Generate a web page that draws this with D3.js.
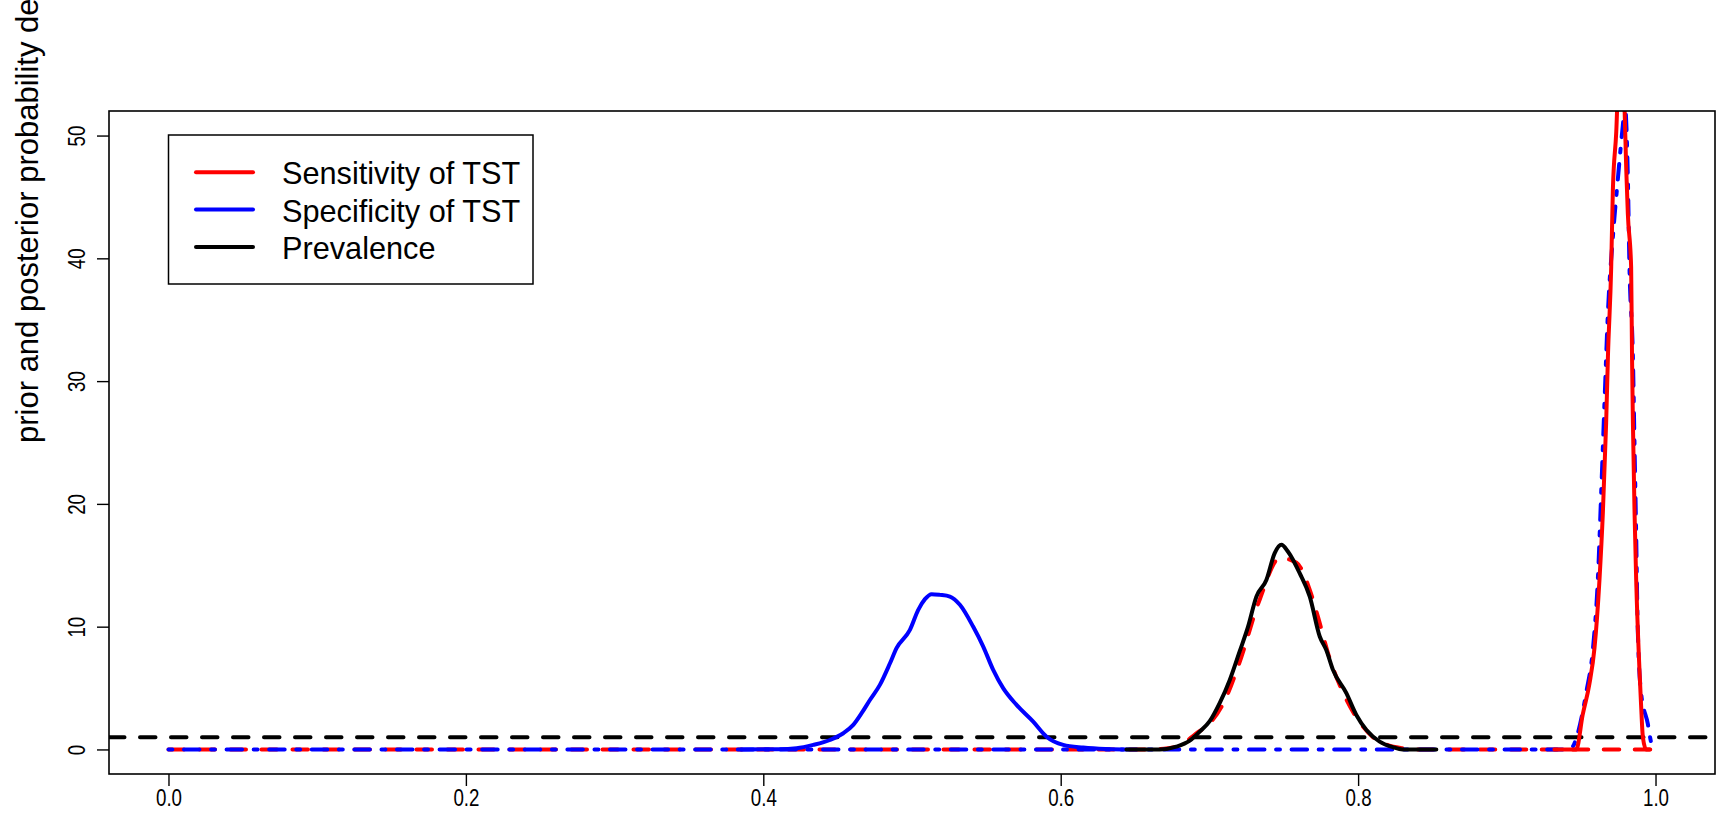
<!DOCTYPE html>
<html>
<head>
<meta charset="utf-8">
<script src="https://cdn.jsdelivr.net/npm/d3@7"></script>
<style>
  body { margin: 0; background: #fff; }
  svg { display: block; }
  text { font-family: "Liberation Sans", Arial, Helvetica, sans-serif; fill: #000; }
</style>
</head>
<body>
<svg id="chart" width="1721" height="827"></svg>
<script>
// Tick values
const xTicks = [0, 0.2, 0.4, 0.6, 0.8, 1.0];
const yTicks = [0, 10, 20, 30, 40, 50];

// Prior for sensitivity (red dashed)
const sensPriorX = [0, 0.64, 0.66, 0.672, 0.68, 0.691, 0.70, 0.71, 0.72, 0.7338, 0.7474, 0.7586, 0.7675, 0.773, 0.7809, 0.79, 0.80, 0.81, 0.82, 0.83, 0.84, 0.86, 1.0];
const sensPriorY = [0, 0, 0, 0.1, 0.3, 1.3, 2.1, 3.9, 7.0, 12.2, 15.6, 15.2, 13.0, 10.8, 7.4, 4.6, 2.4, 1.0, 0.35, 0.1, 0, 0, 0];

// Prior for specificity (blue dot-dash)
const specPriorX = [0, 0.94, 0.944, 0.9478, 0.9534, 0.958, 0.9612, 0.9635, 0.9657, 0.968, 0.9713, 0.9747, 0.978, 0.9795, 0.9805, 0.9814, 0.9825, 0.9848, 0.9859, 0.987, 0.988, 0.9903, 0.9948, 0.997, 0.9993];
const specPriorY = [0, 0, 0.2, 1.35, 4.63, 8.3, 13.8, 21.0, 28.3, 35.6, 41.7, 46.5, 50.8, 52.5, 50.5, 46.5, 39.2, 31.9, 24.6, 17.4, 10.1, 4.6, 2.1, 0.6, 0];

// Prior for prevalence (uniform, black dashed)
const prevPriorDensity = 1;

// Posterior for sensitivity (red solid)
const sensPostX = [0.932, 0.9467, 0.951, 0.9556, 0.959, 0.9623, 0.9646, 0.9668, 0.968, 0.9702, 0.9713, 0.9736, 0.9755, 0.9775, 0.979, 0.9803, 0.9814, 0.9836, 0.9842, 0.9848, 0.9859, 0.987, 0.9892, 0.9903, 0.9915, 0.9937, 0.996];
const sensPostY = [0, 0, 2.81, 5.37, 8.3, 13.8, 19.3, 26.6, 32.0, 39.3, 45.5, 50.3, 56, 57, 53, 47.3, 43.6, 39.3, 32.0, 26.6, 19.3, 13.8, 6.5, 3.6, 1.0, 0, 0];

// Posterior for specificity (blue solid)
const specPostX = [0.385, 0.41, 0.4224, 0.4336, 0.4448, 0.4538, 0.4605, 0.4661, 0.4717, 0.4784, 0.4852, 0.4896, 0.4986, 0.5042, 0.5087, 0.5132, 0.5188, 0.5255, 0.5322, 0.5411, 0.5479, 0.5546, 0.5613, 0.5703, 0.5815, 0.5905, 0.6017, 0.6151, 0.63, 0.642];
const specPostY = [0, 0.02, 0.1, 0.37, 0.77, 1.32, 2.0, 2.95, 4.03, 5.26, 7.02, 8.25, 9.74, 11.37, 12.24, 12.65, 12.59, 12.45, 11.78, 10.01, 8.38, 6.48, 4.99, 3.63, 2.27, 1.04, 0.37, 0.15, 0.03, 0];

// Posterior for prevalence (black solid)
const prevPostX = [0.6442, 0.6666, 0.6778, 0.6868, 0.6935, 0.7002, 0.7069, 0.7137, 0.7204, 0.726, 0.7316, 0.7383, 0.7439, 0.7484, 0.7529, 0.7607, 0.7675, 0.7742, 0.7786, 0.7831, 0.7921, 0.7988, 0.8056, 0.8145, 0.8235, 0.83, 0.8526];
const prevPostY = [0, 0, 0.23, 0.72, 1.45, 2.3, 3.77, 5.66, 8.0, 10.0, 12.45, 13.8, 15.99, 16.67, 16.1, 14.36, 12.45, 9.2, 8.1, 6.48, 4.58, 2.81, 1.59, 0.64, 0.18, 0, 0];

const legendLabels = ["Sensitivity of TST", "Specificity of TST", "Prevalence"];
const legendColors = ["#ff0000", "#0000ff", "#000000"];
const yTitle = "prior and posterior probability density";

// Layout
const plot = { left: 109, right: 1715, top: 111, bottom: 774 };
const LW = 4;                     // curve line width
const dash = [15.5, 15.5];        // dashed
const dotdash = [3.9, 11.6, 15.5, 11.6];  // dot-dash

const svg = d3.select("#chart");

const x = d3.scaleLinear().domain([-0.04, 1.04]).range([plot.left, plot.right]);
const y = d3.scaleLinear().domain([-2, 52]).range([plot.bottom, plot.top]);

svg.append("defs").append("clipPath").attr("id", "plotClip")
  .append("rect")
  .attr("x", plot.left).attr("y", plot.top)
  .attr("width", plot.right - plot.left).attr("height", plot.bottom - plot.top);

const line = d3.line().x(d => x(d[0])).y(d => y(d[1])).curve(d3.curveMonotoneX);
const zip = (xs, ys) => xs.map((v, i) => [v, ys[i]]);

const curves = svg.append("g").attr("clip-path", "url(#plotClip)");

function drawCurve(data, color, dasharray) {
  curves.append("path")
    .datum(data)
    .attr("d", line)
    .attr("fill", "none")
    .attr("stroke", color)
    .attr("stroke-width", LW)
    .attr("stroke-linejoin", "round")
    .attr("stroke-linecap", "round")
    .attr("stroke-dasharray", dasharray ? dasharray.join(" ") : null);
}

// priors
drawCurve(zip(sensPriorX, sensPriorY), "#ff0000", dash);
drawCurve(zip(specPriorX, specPriorY), "#0000ff", dotdash);
drawCurve([[x.domain()[0], prevPriorDensity], [x.domain()[1], prevPriorDensity]], "#000000", dash);
// posteriors
drawCurve(zip(sensPostX, sensPostY), "#ff0000", null);
drawCurve(zip(specPostX, specPostY), "#0000ff", null);
drawCurve(zip(prevPostX, prevPostY), "#000000", null);

// Plot frame
svg.append("rect")
  .attr("x", plot.left).attr("y", plot.top)
  .attr("width", plot.right - plot.left).attr("height", plot.bottom - plot.top)
  .attr("fill", "none").attr("stroke", "#000").attr("stroke-width", 1.6);

// X axis
const gx = svg.append("g")
  .attr("transform", `translate(0,${plot.bottom})`)
  .call(d3.axisBottom(x).tickValues(xTicks).tickFormat(d3.format(".1f")).tickSizeInner(12).tickSizeOuter(0));
gx.select(".domain").remove();
gx.selectAll(".tick line").attr("stroke", "#000").attr("stroke-width", 1.4);
gx.selectAll(".tick text")
  .attr("y", 32).attr("dy", null).attr("x", 0)
  .attr("text-anchor", "middle")
  .attr("transform", "scale(0.78,1)")
  .style("font-size", "24px")
  .style("font-family", "'Liberation Sans', Arial, sans-serif");

// Y axis
const gy = svg.append("g")
  .attr("transform", `translate(${plot.left},0)`)
  .call(d3.axisLeft(y).tickValues(yTicks).tickFormat(d3.format("d")).tickSizeInner(12).tickSizeOuter(0));
gy.select(".domain").remove();
gy.selectAll(".tick line").attr("stroke", "#000").attr("stroke-width", 1.4);
gy.selectAll(".tick text")
  .attr("x", 0).attr("y", 0).attr("dy", null)
  .attr("text-anchor", "middle")
  .attr("transform", "translate(-24,0) rotate(-90) scale(0.78,1)")
  .style("font-size", "24px")
  .style("font-family", "'Liberation Sans', Arial, sans-serif");

// Y axis title
svg.append("text")
  .attr("transform", "translate(38,443) rotate(-90)")
  .attr("text-anchor", "start")
  .style("font-size", "31px")
  .text(yTitle);

// Legend
const legend = svg.append("g");
legend.append("rect")
  .attr("x", 168.5).attr("y", 135).attr("width", 364.5).attr("height", 149)
  .attr("fill", "#fff").attr("stroke", "#000").attr("stroke-width", 1.5);
legendLabels.forEach((lab, i) => {
  const cy = 172.3 + i * 37.3;
  legend.append("line")
    .attr("x1", 196).attr("x2", 253).attr("y1", cy).attr("y2", cy)
    .attr("stroke", legendColors[i]).attr("stroke-width", LW).attr("stroke-linecap", "round");
  legend.append("text")
    .attr("x", 282).attr("y", cy + 12)
    .style("font-size", "30.7px")
    .text(lab);
});
</script>
</body>
</html>
